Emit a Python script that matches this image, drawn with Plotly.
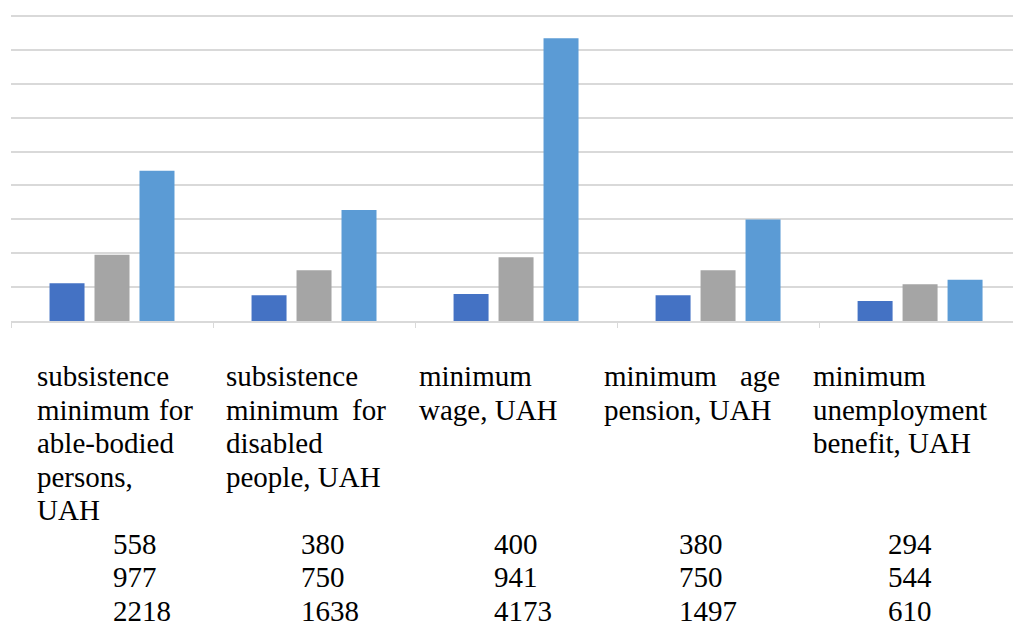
import plotly.graph_objects as go

# Indicators (category labels, one list of lines per category)
label_lines = [
    ["subsistence", "minimum for", "able-bodied", "persons,", "UAH"],
    ["subsistence", "minimum for", "disabled", "people, UAH"],
    ["minimum", "wage, UAH"],
    ["minimum age", "pension, UAH"],
    ["minimum", "unemployment", "benefit, UAH"],
]
categories = ["c1", "c2", "c3", "c4", "c5"]

# Three series of values, UAH
series_1 = [558, 380, 400, 380, 294]
series_2 = [977, 750, 941, 750, 544]
series_3 = [2218, 1638, 4173, 1497, 610]

colors = ["#4472C4", "#A5A5A5", "#5B9BD5"]

W, H = 1013, 624
ML, MR, MT, MB = 11, 0, 15, 303
PLOT_W = W - ML - MR
PLOT_H = H - MT - MB
FONT = "Liberation Serif, Tinos, Times, serif"
FS = 29

fig = go.Figure()
for vals, col in zip([series_1, series_2, series_3], colors):
    fig.add_trace(go.Bar(
        x=categories, y=vals, marker=dict(color=col, line=dict(width=0)),
        showlegend=False, hoverinfo="skip",
    ))

# Data table under the chart, laid out in pixel columns
col_left = [36, 225, 418, 603, 812]
col_right = [194, 387, 590, 781, 1000]
num_left = [112, 300, 493, 678, 887]
row0_base = 386
row_step = 33.5


def px_x(x):
    return (x - ML) / PLOT_W


def px_y_baseline(b):
    # centre of the text box sits about 10px above the baseline
    return (MT + PLOT_H - (b - 10)) / PLOT_H


annotations = []


def add_text(text, x_px, base_px, anchor="left"):
    annotations.append(dict(
        text=text, xref="paper", yref="paper",
        x=px_x(x_px), y=px_y_baseline(base_px),
        xanchor=anchor, yanchor="middle", showarrow=False, borderpad=0,
        font=dict(family=FONT, size=FS, color="#000000"),
    ))


for i, lines in enumerate(label_lines):
    for k, line in enumerate(lines):
        base = row0_base + row_step * k
        words = line.split(" ")
        if k < len(lines) - 1 and len(words) > 1:
            # justified line: first word at the left edge, last word at the right edge
            add_text(words[0], col_left[i], base, "left")
            add_text(words[-1], col_right[i], base, "right")
        else:
            add_text(line, col_left[i], base, "left")

for s, vals in enumerate([series_1, series_2, series_3]):
    base = row0_base + row_step * (5 + s)
    for i, v in enumerate(vals):
        add_text(str(v), num_left[i], base, "left")

grid_col = "#d9d9d9"
fig.update_layout(
    width=W, height=H, autosize=False,
    font=dict(family=FONT, size=FS, color="#000000"),
    margin=dict(l=ML, r=MR, t=MT, b=MB, pad=0),
    paper_bgcolor="white", plot_bgcolor="white",
    barmode="group", bargap=0.332, bargroupgap=0.222,
    annotations=annotations,
    xaxis=dict(
        type="category", range=[-0.5, 4.46], showticklabels=False,
        showgrid=False, zeroline=False, showline=True, linecolor=grid_col,
        linewidth=1.6, ticks="outside", tickson="boundaries", ticklen=5,
        tickcolor=grid_col, tickwidth=1.3,
    ),
    yaxis=dict(
        range=[0, 4515], dtick=500, showticklabels=False, showgrid=True,
        gridcolor=grid_col, gridwidth=1.6, zeroline=False, showline=False,
    ),
)

fig.write_html("out.html")
